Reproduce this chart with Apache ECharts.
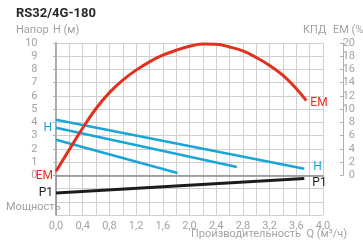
<!DOCTYPE html>
<html>
<head>
<meta charset="utf-8">
<script src="https://cdn.jsdelivr.net/npm/echarts@6/dist/echarts.min.js"></script>
<style>
  html, body { margin: 0; padding: 0; background: #fff; }
  #main { width: 363px; height: 244px; }
</style>
</head>
<body>
<div id="main"></div>
<script>
// данные графика
// КПД (EM %), кривая
var emQ = [0, 0.2, 0.4, 0.6, 0.8, 1.0, 1.2, 1.4, 1.6, 1.8, 2.0, 2.2, 2.4, 2.6, 2.8, 3.0, 3.2, 3.4, 3.6, 3.75];
var emVal = [0.6, 3.9, 7.15, 10.1, 12.5, 14.4, 15.9, 17.15, 18.15, 18.9, 19.5, 19.85, 19.8, 19.4, 18.8, 17.8, 16.6, 15.1, 13.1, 11.3];

// напор H (м), три скорости
var h1Q = [0, 3.72], h1Val = [4.2, 0.5];
var h2Q = [0, 2.71], h2Val = [3.6, 0.63];
var h3Q = [0, 1.82], h3Val = [2.69, 0.17];

// мощность P1 (в координатах нижней полосы)
var p1Q = [0, 3.72], p1Val = [-1.33, -0.25];

var RED = '#e1311f', BLUE = '#1aa5d9', BLACK = '#1c1c1c', GRAY = '#a3a3a3';
var FONT = '"Liberation Sans Narrow", "Roboto", sans-serif';

function pts(xs, ys, first, last) {
    return xs.map(function (x, i) {
        var item = { value: [x, ys[i]] };
        if (i === 0 && first) item.label = first;
        if (i === xs.length - 1 && last) item.label = last;
        return item;
    });
}
function lbl(text, color, pos, dist, off) {
    return {
        show: true, formatter: text, position: pos, distance: dist, offset: off || [0, 0],
        color: color, fontFamily: FONT, fontSize: 12
    };
}

var myChart = echarts.init(document.getElementById('main'));

option = {
    animation: false,
    backgroundColor: '#fff',
    grid: [
        {left: 56, top: 43, width: 267, height: 172},
        {left: 56, top: 43, width: 267, height: 132.3}
    ],
    xAxis: [
        {
            gridIndex: 0, type: 'value', min: 0, max: 4, interval: 0.2,
            axisLine: {lineStyle: {color: '#8c8c8c', width: 1.5}},
            axisTick: {show: false},
            splitLine: {lineStyle: {color: '#cfcfcf', width: 1}},
            axisLabel: {
                color: GRAY, fontFamily: FONT, fontSize: 11, margin: 6,
                formatter: function (v) {
                    var r = Math.round(v * 10);
                    if (r % 4 !== 0) return '';
                    return (r / 10).toFixed(1).replace('.', ',');
                }
            }
        },
        {gridIndex: 1, type: 'value', min: 0, max: 4, show: false}
    ],
    yAxis: [
        {
            gridIndex: 0, type: 'value', min: -3, max: 10, interval: 1,
            axisLine: {show: true, lineStyle: {color: '#8c8c8c', width: 1.5}},
            axisTick: {show: false},
            axisLabel: {show: false},
            splitLine: {lineStyle: {color: '#cfcfcf', width: 1}}
        },
        {
            gridIndex: 1, type: 'value', position: 'left', offset: 29.5,
            min: 0, max: 10, interval: 1,
            axisLine: {show: true, lineStyle: {color: '#b0b0b0'}},
            axisTick: {show: true, length: 3, lineStyle: {color: '#b0b0b0'}},
            axisLabel: {inside: true, align: 'right', margin: 11, color: GRAY, fontFamily: FONT, fontSize: 11},
            splitLine: {show: false}
        },
        {
            gridIndex: 1, type: 'value', position: 'right', offset: 20,
            min: 0, max: 20, interval: 2,
            axisLine: {show: true, lineStyle: {color: '#b0b0b0'}},
            axisTick: {show: true, inside: true, length: 3, lineStyle: {color: '#b0b0b0'}},
            axisLabel: {align: 'right', margin: 12, color: GRAY, fontFamily: FONT, fontSize: 11},
            splitLine: {show: false}
        },
        // скрытая шкала КПД, совпадающая с сеткой (-6..20)
        {gridIndex: 0, type: 'value', min: -6, max: 20, show: false}
    ],
    graphic: [
        {type: 'text', left: 16, top: 7, style: {text: 'RS32/4G-180', fill: '#2a2a2a', font: 'bold 13px ' + FONT}},
        {type: 'text', left: 16, top: 25, style: {text: 'Напор', fill: GRAY, font: '11px ' + FONT}},
        {type: 'text', left: 53, top: 25, style: {text: 'H (м)', fill: GRAY, font: '11px ' + FONT}},
        {type: 'text', left: 303, top: 25, style: {text: 'КПД', fill: GRAY, font: '11px ' + FONT}},
        {type: 'text', left: 333, top: 25, style: {text: 'ЕМ (%)', fill: GRAY, font: '11px ' + FONT}},
        {type: 'text', left: 6, top: 202, style: {text: 'Мощность', fill: GRAY, font: '11px ' + FONT}},
        {type: 'text', left: 191, top: 229, style: {text: 'Производительность  Q (м³/ч)', fill: GRAY, font: '11px ' + FONT}}
    ],
    series: [
        {
            name: 'P1', type: 'line', xAxisIndex: 0, yAxisIndex: 0,
            symbol: 'circle', symbolSize: 0, showSymbol: true,
            lineStyle: {color: BLACK, width: 3},
            data: pts(p1Q, p1Val, lbl('P1', BLACK, 'left', 3, [0, 0]), lbl('P1', BLACK, 'right', 8, [0, 4]))
        },
        {
            name: 'H1', type: 'line', xAxisIndex: 0, yAxisIndex: 0,
            symbol: 'circle', symbolSize: 0, showSymbol: true,
            lineStyle: {color: BLUE, width: 2.5},
            data: pts(h1Q, h1Val, null, lbl('H', BLUE, 'right', 9, [0, -2]))
        },
        {
            name: 'H2', type: 'line', xAxisIndex: 0, yAxisIndex: 0,
            symbol: 'circle', symbolSize: 0, showSymbol: true,
            lineStyle: {color: BLUE, width: 2.5},
            data: pts(h2Q, h2Val, lbl('H', BLUE, 'left', 4, [0, 0]), null)
        },
        {
            name: 'H3', type: 'line', xAxisIndex: 0, yAxisIndex: 0, symbol: 'none',
            lineStyle: {color: BLUE, width: 2.5},
            data: pts(h3Q, h3Val, null, null)
        },
        {
            name: 'EM', type: 'line', xAxisIndex: 0, yAxisIndex: 3,
            symbol: 'circle', symbolSize: 0, showSymbol: true, showAllSymbol: true, smooth: 0.4,
            lineStyle: {color: RED, width: 3},
            data: pts(emQ, emVal, lbl('EM', RED, 'left', 3, [0, 5]), lbl('EM', RED, 'right', 4, [0, 2]))
        }
    ]
};

myChart.setOption(option);
</script>
</body>
</html>
